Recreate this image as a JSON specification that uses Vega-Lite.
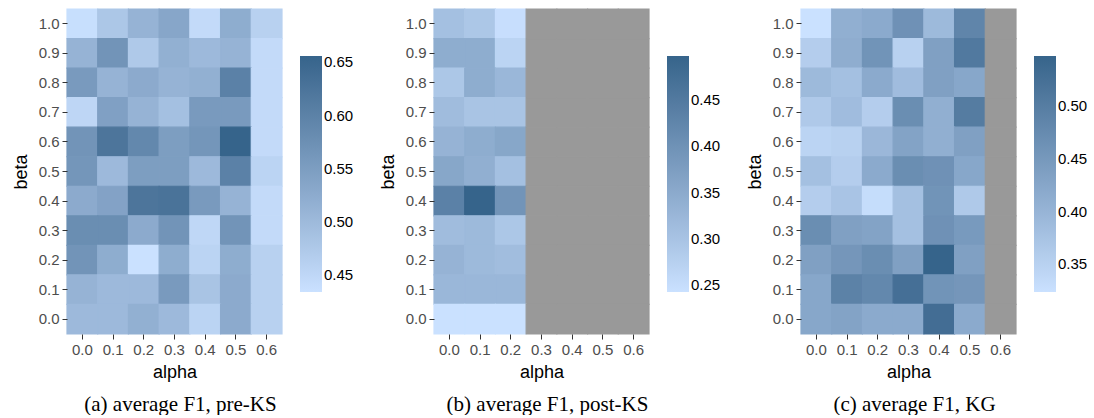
{
 "$schema": "https://vega.github.io/schema/vega-lite/v6.json",
 "padding": {"left": 12, "top": 8, "right": 0, "bottom": 0},
 "background": "white",
 "config": {
  "view": {"stroke": null},
  "font": "Liberation Sans",
  "axis": {"domain": false, "grid": false, "tickColor": "#333333", "tickSize": 5, "tickWidth": 1, "labelColor": "#4D4D4D", "labelFontSize": 15, "labelFont": "Liberation Sans", "titleFont": "Liberation Sans", "titleFontSize": 18, "titleFontWeight": "normal", "titleColor": "#000000", "labelPadding": 3},
  "axisX": {"labelAngle": 0, "titlePadding": 6},
  "axisY": {"labelAngle": 0, "titlePadding": 8},
  "legend": {"title": null, "orient": "none", "legendX": 233, "legendY": 47, "gradientLength": 236, "gradientThickness": 22, "gradientStrokeWidth": 0, "labelFontSize": 15, "labelFont": "Liberation Sans", "labelColor": "#000000", "labelOffset": 5, "padding": 0, "labelOverlap": false},
  "title": {"orient": "bottom", "font": "Liberation Serif", "fontSize": 21, "fontWeight": "normal", "color": "#000000", "anchor": "middle", "offset": 13, "dx": 6},
  "scale": {"bandPaddingInner": 0, "bandPaddingOuter": 0}
 },
 "datasets": {
  "pre": [
   {"alpha":"0.0","beta":"1.0","f1":0.438},{"alpha":"0.1","beta":"1.0","f1":0.478},{"alpha":"0.2","beta":"1.0","f1":0.512},{"alpha":"0.3","beta":"1.0","f1":0.534},{"alpha":"0.4","beta":"1.0","f1":0.445},{"alpha":"0.5","beta":"1.0","f1":0.523},{"alpha":"0.6","beta":"1.0","f1":0.461},
   {"alpha":"0.0","beta":"0.9","f1":0.512},{"alpha":"0.1","beta":"0.9","f1":0.567},{"alpha":"0.2","beta":"0.9","f1":0.474},{"alpha":"0.3","beta":"0.9","f1":0.518},{"alpha":"0.4","beta":"0.9","f1":0.501},{"alpha":"0.5","beta":"0.9","f1":0.512},{"alpha":"0.6","beta":"0.9","f1":0.445},
   {"alpha":"0.0","beta":"0.8","f1":0.556},{"alpha":"0.1","beta":"0.8","f1":0.512},{"alpha":"0.2","beta":"0.8","f1":0.527},{"alpha":"0.3","beta":"0.8","f1":0.512},{"alpha":"0.4","beta":"0.8","f1":0.518},{"alpha":"0.5","beta":"0.8","f1":0.601},{"alpha":"0.6","beta":"0.8","f1":0.445},
   {"alpha":"0.0","beta":"0.7","f1":0.452},{"alpha":"0.1","beta":"0.7","f1":0.545},{"alpha":"0.2","beta":"0.7","f1":0.512},{"alpha":"0.3","beta":"0.7","f1":0.490},{"alpha":"0.4","beta":"0.7","f1":0.556},{"alpha":"0.5","beta":"0.7","f1":0.556},{"alpha":"0.6","beta":"0.7","f1":0.445},
   {"alpha":"0.0","beta":"0.6","f1":0.567},{"alpha":"0.1","beta":"0.6","f1":0.623},{"alpha":"0.2","beta":"0.6","f1":0.589},{"alpha":"0.3","beta":"0.6","f1":0.549},{"alpha":"0.4","beta":"0.6","f1":0.563},{"alpha":"0.5","beta":"0.6","f1":0.656},{"alpha":"0.6","beta":"0.6","f1":0.445},
   {"alpha":"0.0","beta":"0.5","f1":0.563},{"alpha":"0.1","beta":"0.5","f1":0.501},{"alpha":"0.2","beta":"0.5","f1":0.549},{"alpha":"0.3","beta":"0.5","f1":0.549},{"alpha":"0.4","beta":"0.5","f1":0.501},{"alpha":"0.5","beta":"0.5","f1":0.601},{"alpha":"0.6","beta":"0.5","f1":0.456},
   {"alpha":"0.0","beta":"0.4","f1":0.527},{"alpha":"0.1","beta":"0.4","f1":0.541},{"alpha":"0.2","beta":"0.4","f1":0.623},{"alpha":"0.3","beta":"0.4","f1":0.627},{"alpha":"0.4","beta":"0.4","f1":0.556},{"alpha":"0.5","beta":"0.4","f1":0.512},{"alpha":"0.6","beta":"0.4","f1":0.445},
   {"alpha":"0.0","beta":"0.3","f1":0.578},{"alpha":"0.1","beta":"0.3","f1":0.578},{"alpha":"0.2","beta":"0.3","f1":0.527},{"alpha":"0.3","beta":"0.3","f1":0.567},{"alpha":"0.4","beta":"0.3","f1":0.450},{"alpha":"0.5","beta":"0.3","f1":0.567},{"alpha":"0.6","beta":"0.3","f1":0.445},
   {"alpha":"0.0","beta":"0.2","f1":0.567},{"alpha":"0.1","beta":"0.2","f1":0.523},{"alpha":"0.2","beta":"0.2","f1":0.434},{"alpha":"0.3","beta":"0.2","f1":0.523},{"alpha":"0.4","beta":"0.2","f1":0.456},{"alpha":"0.5","beta":"0.2","f1":0.523},{"alpha":"0.6","beta":"0.2","f1":0.461},
   {"alpha":"0.0","beta":"0.1","f1":0.512},{"alpha":"0.1","beta":"0.1","f1":0.501},{"alpha":"0.2","beta":"0.1","f1":0.501},{"alpha":"0.3","beta":"0.1","f1":0.556},{"alpha":"0.4","beta":"0.1","f1":0.483},{"alpha":"0.5","beta":"0.1","f1":0.527},{"alpha":"0.6","beta":"0.1","f1":0.461},
   {"alpha":"0.0","beta":"0.0","f1":0.501},{"alpha":"0.1","beta":"0.0","f1":0.501},{"alpha":"0.2","beta":"0.0","f1":0.518},{"alpha":"0.3","beta":"0.0","f1":0.501},{"alpha":"0.4","beta":"0.0","f1":0.456},{"alpha":"0.5","beta":"0.0","f1":0.527},{"alpha":"0.6","beta":"0.0","f1":0.461}
  ],
  "post": [
   {"alpha":"0.0","beta":"1.0","f1":0.307},{"alpha":"0.1","beta":"1.0","f1":0.294},{"alpha":"0.2","beta":"1.0","f1":0.248},{"alpha":"0.3","beta":"1.0","f1":null},{"alpha":"0.4","beta":"1.0","f1":null},{"alpha":"0.5","beta":"1.0","f1":null},{"alpha":"0.6","beta":"1.0","f1":null},
   {"alpha":"0.0","beta":"0.9","f1":0.345},{"alpha":"0.1","beta":"0.9","f1":0.345},{"alpha":"0.2","beta":"0.9","f1":0.268},{"alpha":"0.3","beta":"0.9","f1":null},{"alpha":"0.4","beta":"0.9","f1":null},{"alpha":"0.5","beta":"0.9","f1":null},{"alpha":"0.6","beta":"0.9","f1":null},
   {"alpha":"0.0","beta":"0.8","f1":0.294},{"alpha":"0.1","beta":"0.8","f1":0.345},{"alpha":"0.2","beta":"0.8","f1":0.324},{"alpha":"0.3","beta":"0.8","f1":null},{"alpha":"0.4","beta":"0.8","f1":null},{"alpha":"0.5","beta":"0.8","f1":null},{"alpha":"0.6","beta":"0.8","f1":null},
   {"alpha":"0.0","beta":"0.7","f1":0.314},{"alpha":"0.1","beta":"0.7","f1":0.299},{"alpha":"0.2","beta":"0.7","f1":0.299},{"alpha":"0.3","beta":"0.7","f1":null},{"alpha":"0.4","beta":"0.7","f1":null},{"alpha":"0.5","beta":"0.7","f1":null},{"alpha":"0.6","beta":"0.7","f1":null},
   {"alpha":"0.0","beta":"0.6","f1":0.332},{"alpha":"0.1","beta":"0.6","f1":0.345},{"alpha":"0.2","beta":"0.6","f1":0.357},{"alpha":"0.3","beta":"0.6","f1":null},{"alpha":"0.4","beta":"0.6","f1":null},{"alpha":"0.5","beta":"0.6","f1":null},{"alpha":"0.6","beta":"0.6","f1":null},
   {"alpha":"0.0","beta":"0.5","f1":0.357},{"alpha":"0.1","beta":"0.5","f1":0.340},{"alpha":"0.2","beta":"0.5","f1":0.307},{"alpha":"0.3","beta":"0.5","f1":null},{"alpha":"0.4","beta":"0.5","f1":null},{"alpha":"0.5","beta":"0.5","f1":null},{"alpha":"0.6","beta":"0.5","f1":null},
   {"alpha":"0.0","beta":"0.4","f1":0.434},{"alpha":"0.1","beta":"0.4","f1":0.497},{"alpha":"0.2","beta":"0.4","f1":0.395},{"alpha":"0.3","beta":"0.4","f1":null},{"alpha":"0.4","beta":"0.4","f1":null},{"alpha":"0.5","beta":"0.4","f1":null},{"alpha":"0.6","beta":"0.4","f1":null},
   {"alpha":"0.0","beta":"0.3","f1":0.314},{"alpha":"0.1","beta":"0.3","f1":0.319},{"alpha":"0.2","beta":"0.3","f1":0.294},{"alpha":"0.3","beta":"0.3","f1":null},{"alpha":"0.4","beta":"0.3","f1":null},{"alpha":"0.5","beta":"0.3","f1":null},{"alpha":"0.6","beta":"0.3","f1":null},
   {"alpha":"0.0","beta":"0.2","f1":0.332},{"alpha":"0.1","beta":"0.2","f1":0.319},{"alpha":"0.2","beta":"0.2","f1":0.312},{"alpha":"0.3","beta":"0.2","f1":null},{"alpha":"0.4","beta":"0.2","f1":null},{"alpha":"0.5","beta":"0.2","f1":null},{"alpha":"0.6","beta":"0.2","f1":null},
   {"alpha":"0.0","beta":"0.1","f1":0.324},{"alpha":"0.1","beta":"0.1","f1":0.324},{"alpha":"0.2","beta":"0.1","f1":0.324},{"alpha":"0.3","beta":"0.1","f1":null},{"alpha":"0.4","beta":"0.1","f1":null},{"alpha":"0.5","beta":"0.1","f1":null},{"alpha":"0.6","beta":"0.1","f1":null},
   {"alpha":"0.0","beta":"0.0","f1":0.243},{"alpha":"0.1","beta":"0.0","f1":0.243},{"alpha":"0.2","beta":"0.0","f1":0.243},{"alpha":"0.3","beta":"0.0","f1":null},{"alpha":"0.4","beta":"0.0","f1":null},{"alpha":"0.5","beta":"0.0","f1":null},{"alpha":"0.6","beta":"0.0","f1":null}
  ],
  "kg": [
   {"alpha":"0.0","beta":"1.0","f1":0.324},{"alpha":"0.1","beta":"1.0","f1":0.409},{"alpha":"0.2","beta":"1.0","f1":0.418},{"alpha":"0.3","beta":"1.0","f1":0.462},{"alpha":"0.4","beta":"1.0","f1":0.391},{"alpha":"0.5","beta":"1.0","f1":0.485},{"alpha":"0.6","beta":"1.0","f1":null},
   {"alpha":"0.0","beta":"0.9","f1":0.357},{"alpha":"0.1","beta":"0.9","f1":0.413},{"alpha":"0.2","beta":"0.9","f1":0.458},{"alpha":"0.3","beta":"0.9","f1":0.351},{"alpha":"0.4","beta":"0.9","f1":0.436},{"alpha":"0.5","beta":"0.9","f1":0.507},{"alpha":"0.6","beta":"0.9","f1":null},
   {"alpha":"0.0","beta":"0.8","f1":0.391},{"alpha":"0.1","beta":"0.8","f1":0.380},{"alpha":"0.2","beta":"0.8","f1":0.418},{"alpha":"0.3","beta":"0.8","f1":0.386},{"alpha":"0.4","beta":"0.8","f1":0.436},{"alpha":"0.5","beta":"0.8","f1":0.424},{"alpha":"0.6","beta":"0.8","f1":null},
   {"alpha":"0.0","beta":"0.7","f1":0.364},{"alpha":"0.1","beta":"0.7","f1":0.386},{"alpha":"0.2","beta":"0.7","f1":0.357},{"alpha":"0.3","beta":"0.7","f1":0.469},{"alpha":"0.4","beta":"0.7","f1":0.409},{"alpha":"0.5","beta":"0.7","f1":0.502},{"alpha":"0.6","beta":"0.7","f1":null},
   {"alpha":"0.0","beta":"0.6","f1":0.346},{"alpha":"0.1","beta":"0.6","f1":0.351},{"alpha":"0.2","beta":"0.6","f1":0.395},{"alpha":"0.3","beta":"0.6","f1":0.431},{"alpha":"0.4","beta":"0.6","f1":0.409},{"alpha":"0.5","beta":"0.6","f1":0.436},{"alpha":"0.6","beta":"0.6","f1":null},
   {"alpha":"0.0","beta":"0.5","f1":0.380},{"alpha":"0.1","beta":"0.5","f1":0.357},{"alpha":"0.2","beta":"0.5","f1":0.418},{"alpha":"0.3","beta":"0.5","f1":0.469},{"alpha":"0.4","beta":"0.5","f1":0.462},{"alpha":"0.5","beta":"0.5","f1":0.424},{"alpha":"0.6","beta":"0.5","f1":null},
   {"alpha":"0.0","beta":"0.4","f1":0.357},{"alpha":"0.1","beta":"0.4","f1":0.373},{"alpha":"0.2","beta":"0.4","f1":0.331},{"alpha":"0.3","beta":"0.4","f1":0.380},{"alpha":"0.4","beta":"0.4","f1":0.458},{"alpha":"0.5","beta":"0.4","f1":0.364},{"alpha":"0.6","beta":"0.4","f1":null},
   {"alpha":"0.0","beta":"0.3","f1":0.469},{"alpha":"0.1","beta":"0.3","f1":0.436},{"alpha":"0.2","beta":"0.3","f1":0.431},{"alpha":"0.3","beta":"0.3","f1":0.380},{"alpha":"0.4","beta":"0.3","f1":0.462},{"alpha":"0.5","beta":"0.3","f1":0.447},{"alpha":"0.6","beta":"0.3","f1":null},
   {"alpha":"0.0","beta":"0.2","f1":0.436},{"alpha":"0.1","beta":"0.2","f1":0.453},{"alpha":"0.2","beta":"0.2","f1":0.469},{"alpha":"0.3","beta":"0.2","f1":0.436},{"alpha":"0.4","beta":"0.2","f1":0.547},{"alpha":"0.5","beta":"0.2","f1":0.436},{"alpha":"0.6","beta":"0.2","f1":null},
   {"alpha":"0.0","beta":"0.1","f1":0.424},{"alpha":"0.1","beta":"0.1","f1":0.491},{"alpha":"0.2","beta":"0.1","f1":0.480},{"alpha":"0.3","beta":"0.1","f1":0.525},{"alpha":"0.4","beta":"0.1","f1":0.458},{"alpha":"0.5","beta":"0.1","f1":0.453},{"alpha":"0.6","beta":"0.1","f1":null},
   {"alpha":"0.0","beta":"0.0","f1":0.424},{"alpha":"0.1","beta":"0.0","f1":0.431},{"alpha":"0.2","beta":"0.0","f1":0.418},{"alpha":"0.3","beta":"0.0","f1":0.418},{"alpha":"0.4","beta":"0.0","f1":0.529},{"alpha":"0.5","beta":"0.0","f1":0.418},{"alpha":"0.6","beta":"0.0","f1":null}
  ]
 },
 "spacing": 152,
 "bounds": "flush",
 "resolve": {"scale": {"color": "independent"}, "legend": {"color": "independent"}},
 "hconcat": [
  {
   "data": {"name": "pre"},
   "width": 215, "height": 325,
   "title": "(a) average F1, pre-KS",
   "mark": {"type": "rect", "invalid": "show", "strokeWidth": 1.2, "strokeOpacity": 1, "stroke": {"expr": "datum.f1 === null ? '#999999' : scale('concat_0_color', datum.f1)"}},
   "encoding": {
    "x": {"field": "alpha", "type": "ordinal", "title": "alpha", "scale": {"domain": ["0.0","0.1","0.2","0.3","0.4","0.5","0.6"]}},
    "y": {"field": "beta", "type": "ordinal", "sort": "descending", "title": "beta"},
    "color": {"condition": {"test": "datum.f1 === null", "value": "#999999"}, "field": "f1", "type": "quantitative", "scale": {"range": ["#CAE1FF", "#36648B"], "interpolate": "lab", "nice": false, "zero": false}, "legend": {"values": [0.45, 0.5, 0.55, 0.6, 0.65], "format": ".2f"}}
   }
  },
  {
   "data": {"name": "post"},
   "width": 215, "height": 325,
   "title": "(b) average F1, post-KS",
   "mark": {"type": "rect", "invalid": "show", "strokeWidth": 1.2, "strokeOpacity": 1, "stroke": {"expr": "datum.f1 === null ? '#999999' : scale('concat_1_color', datum.f1)"}},
   "encoding": {
    "x": {"field": "alpha", "type": "ordinal", "title": "alpha", "scale": {"domain": ["0.0","0.1","0.2","0.3","0.4","0.5","0.6"]}},
    "y": {"field": "beta", "type": "ordinal", "sort": "descending", "title": "beta"},
    "color": {"condition": {"test": "datum.f1 === null", "value": "#999999"}, "field": "f1", "type": "quantitative", "scale": {"range": ["#CAE1FF", "#36648B"], "interpolate": "lab", "nice": false, "zero": false}, "legend": {"values": [0.25, 0.3, 0.35, 0.4, 0.45], "format": ".2f"}}
   }
  },
  {
   "data": {"name": "kg"},
   "width": 215, "height": 325,
   "title": "(c) average F1, KG",
   "mark": {"type": "rect", "invalid": "show", "strokeWidth": 1.2, "strokeOpacity": 1, "stroke": {"expr": "datum.f1 === null ? '#999999' : scale('concat_2_color', datum.f1)"}},
   "encoding": {
    "x": {"field": "alpha", "type": "ordinal", "title": "alpha", "scale": {"domain": ["0.0","0.1","0.2","0.3","0.4","0.5","0.6"]}},
    "y": {"field": "beta", "type": "ordinal", "sort": "descending", "title": "beta"},
    "color": {"condition": {"test": "datum.f1 === null", "value": "#999999"}, "field": "f1", "type": "quantitative", "scale": {"range": ["#CAE1FF", "#36648B"], "interpolate": "lab", "nice": false, "zero": false}, "legend": {"values": [0.35, 0.4, 0.45, 0.5], "format": ".2f"}}
   }
  }
 ]
}
